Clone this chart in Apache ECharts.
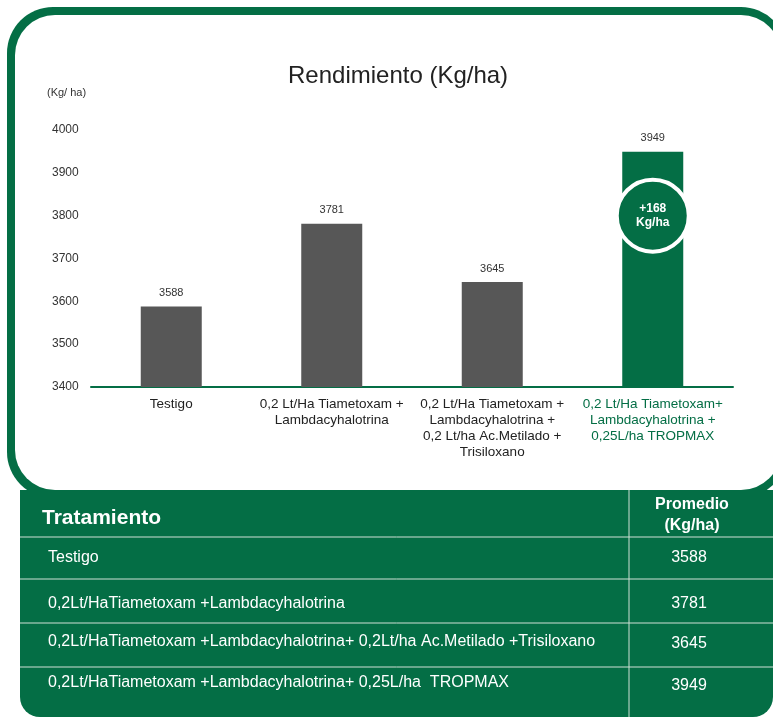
<!DOCTYPE html>
<html>
<head>
<meta charset="utf-8">
<script src="https://cdn.jsdelivr.net/npm/echarts@6/dist/echarts.min.js"></script>
<style>
  html, body { margin: 0; padding: 0; background: #fff; }
  #chart { width: 773px; height: 717px; }
</style>
</head>
<body>
<div id="chart"></div>
<script>
const categories = [
  'Testigo',
  '0,2 Lt/Ha Tiametoxam +\nLambdacyhalotrina',
  '0,2 Lt/Ha Tiametoxam +\nLambdacyhalotrina +\n0,2 Lt/ha Ac.Metilado +\nTrisiloxano',
  '0,2 Lt/Ha Tiametoxam+\nLambdacyhalotrina +\n0,25L/ha TROPMAX'
];
const yields = [3588, 3781, 3645, 3949];
const tableRows = [
  'Testigo',
  '0,2Lt/HaTiametoxam +Lambdacyhalotrina',
  '0,2Lt/HaTiametoxam +Lambdacyhalotrina+ 0,2Lt/ha Ac.Metilado +Trisiloxano',
  '0,2Lt/HaTiametoxam +Lambdacyhalotrina+ 0,25L/ha  TROPMAX'
];
const gainText = '+168\nKg/ha';

const GREEN = '#046e45';
const GREY = '#575757';
const FONT = 'Liberation Sans, Arial, sans-serif';

const chart = echarts.init(document.getElementById('chart'));

// tabla de abajo
const rowLines = [537, 579, 623, 667];
const rowTextY = [558, 604, 642, 683];
const rowValueY = [558, 604, 644, 686];
const tableGraphics = [];
tableRows.forEach((txt, i) => {
  tableGraphics.push({
    type: 'text', x: 48, y: rowTextY[i], z: 50,
    style: { text: txt, fill: '#fff', font: '16px ' + FONT, verticalAlign: 'middle' }
  });
  tableGraphics.push({
    type: 'text', x: 689, y: rowValueY[i], z: 50,
    style: { text: String(yields[i]), fill: '#fff', font: '16px ' + FONT, align: 'center', verticalAlign: 'middle' }
  });
});
rowLines.forEach(y => {
  tableGraphics.push({
    type: 'line', z: 40,
    shape: { x1: 20, y1: y, x2: 773, y2: y },
    style: { stroke: '#cfe0d6', lineWidth: 1 }
  });
});

const option = {
  animation: false,
  textStyle: { fontFamily: FONT },
  title: {
    text: 'Rendimiento (Kg/ha)',
    left: 283, top: 59,
    textStyle: { fontSize: 24, fontWeight: 'normal', color: '#222', fontFamily: FONT }
  },
  grid: { left: 91, right: 40, top: 130, bottom: 330 },
  xAxis: {
    type: 'category',
    data: categories,
    axisLine: { lineStyle: { color: GREEN, width: 2 } },
    axisTick: { show: false },
    axisLabel: {
      interval: 0,
      margin: 9,
      fontSize: 13.5,
      lineHeight: 16,
      color: (v, i) => i === 3 ? GREEN : '#222',
      fontFamily: FONT
    }
  },
  yAxis: {
    type: 'value',
    min: 3400, max: 4000, interval: 100,
    axisLine: { show: false },
    axisTick: { show: false },
    splitLine: { show: false },
    axisLabel: { align: 'left', margin: 39, fontSize: 12, color: '#333', fontFamily: FONT, formatter: v => String(v) }
  },
  series: [{
    type: 'bar',
    barWidth: 61,
    data: yields.map((v, i) => ({ value: v, itemStyle: { color: i === 3 ? GREEN : GREY } })),
    label: { show: true, position: 'top', distance: 8, fontSize: 11, color: '#333', fontFamily: FONT },
    markPoint: {
      symbol: 'circle',
      symbolSize: 72,
      itemStyle: { color: GREEN, borderColor: '#fff', borderWidth: 4 },
      label: { show: true, formatter: gainText, color: '#fff', fontWeight: 'bold', fontSize: 12, lineHeight: 14, fontFamily: FONT },
      data: [{ coord: [3, 3800] }]
    }
  }],
  graphic: [
    // marco verde
    {
      type: 'rect', z: -20, silent: true,
      shape: { x: 7, y: 7, width: 780, height: 491, r: 46 },
      style: { fill: GREEN }
    },
    {
      type: 'rect', z: -19, silent: true,
      shape: { x: 15, y: 15, width: 766, height: 475, r: 40 },
      style: { fill: '#fff' }
    },
    {
      type: 'rect', z: -18, silent: true,
      shape: { x: 20, y: 490, width: 753, height: 227, r: [0, 0, 20, 20] },
      style: { fill: GREEN }
    },
    {
      type: 'line', z: 40,
      shape: { x1: 629, y1: 490, x2: 629, y2: 717 },
      style: { stroke: '#cfe0d6', lineWidth: 1 }
    },
    {
      type: 'text', x: 47, y: 93, z: 50,
      style: { text: '(Kg/ ha)', fill: '#333', font: '11px ' + FONT, verticalAlign: 'middle' }
    },
    {
      type: 'text', x: 42, y: 518, z: 50,
      style: { text: 'Tratamiento', fill: '#fff', font: 'bold 21px ' + FONT, verticalAlign: 'middle' }
    },
    {
      type: 'text', x: 692, y: 515, z: 50,
      style: { text: 'Promedio\n(Kg/ha)', fill: '#fff', font: 'bold 16px ' + FONT, align: 'center', verticalAlign: 'middle', lineHeight: 21 }
    },
    ...tableGraphics
  ]
};

chart.setOption(option);
</script>
</body>
</html>
